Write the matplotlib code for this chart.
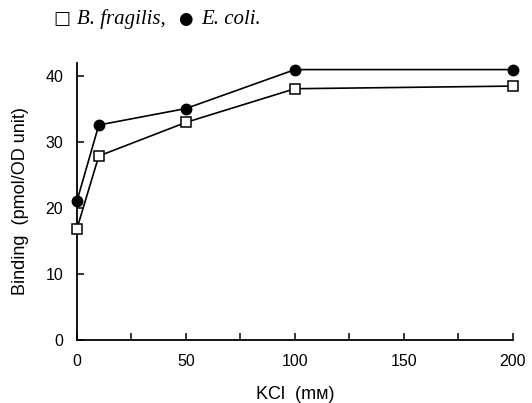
import matplotlib
matplotlib.use("Agg")
import matplotlib.pyplot as plt

kcl = [0, 10, 50, 100, 200]
b_fragilis = [16.9, 27.9, 33.0, 38.1, 38.5]
e_coli = [21.1, 32.6, 35.1, 41.0, 41.0]

plt.rcParams['font.family'] = ['Liberation Sans', 'DejaVu Sans']

fig = plt.figure(figsize=(5.32, 4.03), dpi=100)
ax = fig.add_axes([0.1447, 0.156, 0.8195, 0.6877])

ax.plot(kcl, e_coli, color='black', lw=1.2, marker='o', ms=7.5,
        mfc='black', mec='black', zorder=3, clip_on=False)
ax.plot(kcl, b_fragilis, color='black', lw=1.2, marker='s', ms=7,
        mfc='white', mec='black', mew=1.1, zorder=3, clip_on=False)

ax.set_xlim(0, 200)
ax.set_ylim(0, 42)
ax.set_xticks([0, 50, 100, 150, 200])
ax.set_xticks([25, 75, 125, 175], minor=True)
ax.set_yticks([0, 10, 20, 30, 40])
ax.tick_params(direction='in', length=5, width=1.1, labelsize=11.5, pad=10)
ax.tick_params(which='minor', direction='in', length=5, width=1.1)
for s in ['top', 'right']:
    ax.spines[s].set_visible(False)
for s in ['left', 'bottom']:
    ax.spines[s].set_linewidth(1.3)

ax.set_ylabel('Binding  (pmol/OD unit)', fontsize=13, labelpad=12)
ax.set_xlabel('KCl  (mᴍ)', fontsize=13, labelpad=12)

serif = ['Liberation Serif', 'DejaVu Serif']
fig.text(0.101, 0.952, '□', fontsize=13, family=['DejaVu Sans'], va='center')
fig.text(0.145, 0.952, 'B. fragilis,', fontsize=15, family=serif,
         style='italic', va='center')
fig.text(0.334, 0.952, '●', fontsize=12, family=['DejaVu Sans'], va='center')
fig.text(0.378, 0.952, 'E. coli.', fontsize=15, family=serif,
         style='italic', va='center')

fig.savefig('out.png', dpi=100)
